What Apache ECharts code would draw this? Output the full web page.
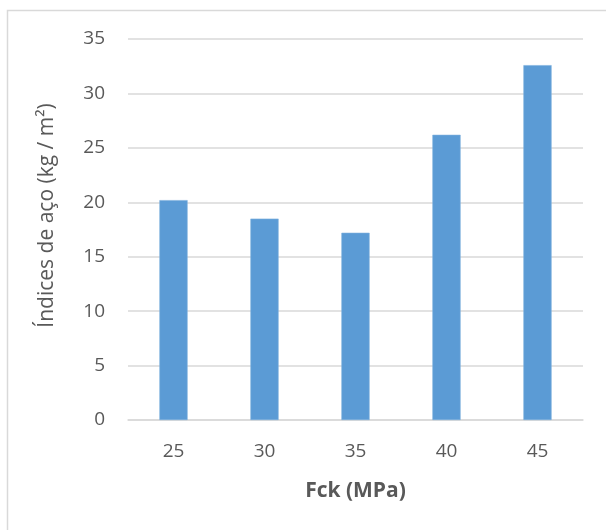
<!DOCTYPE html>
<html>
<head>
<meta charset="utf-8">
<script src="https://cdn.jsdelivr.net/npm/echarts@6/dist/echarts.min.js"></script>
<style>
  html, body { margin: 0; padding: 0; background: #ffffff; }
  #chart { width: 606px; height: 530px; }
</style>
</head>
<body>
<div id="chart"></div>
<script>
// Fck classes (MPa)
const categories = ['25', '30', '35', '40', '45'];
// Steel index per class (kg / m²)
const steelIndex = [20.2, 18.5, 17.2, 26.2, 32.6];
// Value axis ticks
const yTicks = [0, 5, 10, 15, 20, 25, 30, 35];

const textColor = '#595959';
const lineColor = '#d9d9d9';
const fontFamily = '"Open Sans", "Liberation Sans", sans-serif';

const chart = echarts.init(document.getElementById('chart'), null, { renderer: 'canvas' });

chart.setOption({
  animation: false,
  backgroundColor: '#ffffff',
  textStyle: { fontFamily: fontFamily },
  grid: { left: 128, right: 23, top: 39, bottom: 110, containLabel: false },
  xAxis: {
    type: 'category',
    data: categories,
    name: 'Fck (MPa)',
    nameLocation: 'middle',
    nameGap: 61,
    nameTextStyle: { color: textColor, fontSize: 21, fontWeight: 'bold', fontFamily: fontFamily },
    axisLine: { show: true, lineStyle: { color: lineColor, width: 1.5 } },
    axisTick: { show: false },
    axisLabel: { color: textColor, fontSize: 19, margin: 22, fontFamily: fontFamily }
  },
  yAxis: {
    type: 'value',
    min: yTicks[0],
    max: yTicks[yTicks.length - 1],
    interval: 5,
    name: 'Índices de aço (kg / m²)',
    nameLocation: 'middle',
    nameGap: 70,
    nameTextStyle: { color: textColor, fontSize: 21, fontFamily: fontFamily, padding: [0, 0, 0, 28] },
    axisLine: { show: false },
    axisTick: { show: false },
    axisLabel: { color: textColor, fontSize: 19, margin: 23, fontFamily: fontFamily },
    splitLine: { show: true, lineStyle: { color: lineColor, width: 1.5 } }
  },
  series: [{
    type: 'bar',
    data: steelIndex,
    barWidth: '31%',
    itemStyle: { color: '#5b9bd5', borderColor: '#7eb0de', borderWidth: 0.6 }
  }],
  graphic: [
    {
      type: 'polyline',
      shape: { points: [[7.5, 530], [7.5, 10.5], [606, 10.5]] },
      style: { stroke: lineColor, lineWidth: 1.5, fill: null },
      silent: true
    }
  ]
});
</script>
</body>
</html>
